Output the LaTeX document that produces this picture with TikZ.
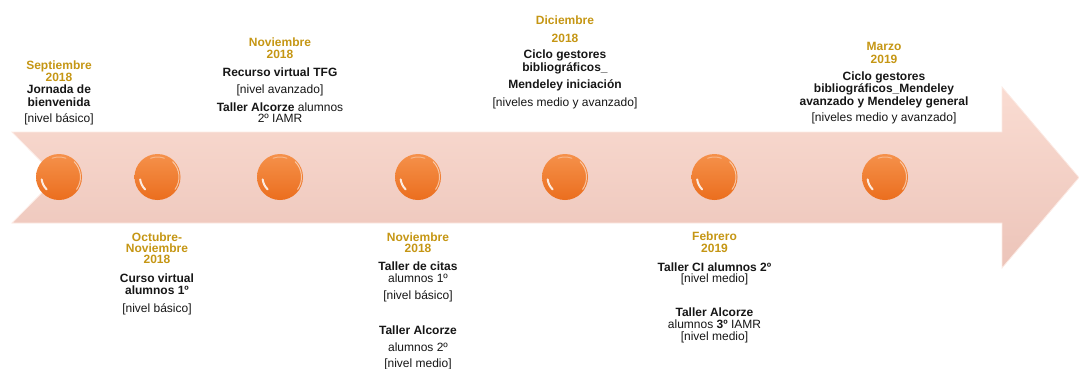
\documentclass[tikz,border=0pt]{standalone}
\usepackage{fontspec}
\setmainfont{Liberation Sans}
\definecolor{gold}{RGB}{197,150,20}
\definecolor{txt}{RGB}{22,22,22}
\definecolor{arrt}{RGB}{250,220,210}
\definecolor{arrb}{RGB}{236,196,185}
\definecolor{arredge}{RGB}{252,234,228}
\definecolor{ballt}{RGB}{245,145,75}
\definecolor{ballb}{RGB}{235,110,30}
\newcommand{\hd}[1]{\textcolor{gold}{\textbf{#1}}}
\begin{document}
\begin{tikzpicture}[x=1bp,y=-1bp,
  blk/.style={align=center, inner sep=0pt, anchor=north, text=txt,
    font=\fontsize{12bp}{12bp}\selectfont},
  ball/.style={circle, minimum size=46bp, inner sep=0pt, draw=none,
    top color=ballt, bottom color=ballb},
  glint/.style={white, line width=2bp, opacity=0.85, line cap=round},
  rim/.style={white, line width=1bp, opacity=0.55, line cap=round}]
\useasboundingbox (0,0) rectangle (1079,368);

% arrow body
\shade[top color=arrt, bottom color=arrb]
  (12,132) -- (1002,132) -- (1002,87) -- (1079,177.5) -- (1002,268)
  -- (1002,223) -- (12,223) -- (57,177.5) -- cycle;
\draw[arredge, line width=0.8bp, line join=miter]
  (12,132) -- (1002,132) -- (1002,87) -- (1079,177.5) -- (1002,268)
  -- (1002,223) -- (12,223) -- (57,177.5) -- cycle;

% balls
\node[ball] (c1) at (59,177) {};
\node[ball] (c2) at (157.5,177) {};
\node[ball] (c3) at (280,177) {};
\node[ball] (c4) at (418,177) {};
\node[ball] (c5) at (565,177) {};
\node[ball] (c6) at (714.5,177) {};
\node[ball] (c7) at (885,177) {};
\foreach \c in {c1,c2,c3,c4,c5,c6,c7} {
  \draw[glint] ([shift={(135:17.5)}]\c.center) arc[start angle=135, end angle=172, radius=17.5];
  \draw[rim] ([shift={(-45:21.5)}]\c.center) arc[start angle=-45, end angle=35, radius=21.5];
  \draw[rim, opacity=0.35] ([shift={(-110:20)}]\c.center) arc[start angle=-110, end angle=-70, radius=20];
}

% upper texts
\node[blk] (t1) at (59,60.5) {\hd{Septiembre}\\\hd{2018}\\\textbf{Jornada de}\\[1bp]\textbf{bienvenida}\\[4bp][nivel básico]};
\node[blk] (t2) at (280,37.5) {\hd{Noviembre}\\\hd{2018}\\[6bp]\textbf{Recurso virtual TFG}\\[5bp][nivel avanzado]\\[6bp]\textbf{Taller Alcorze} alumnos\\[-1bp]2º IAMR};
\node[blk] (t3) at (565,15.5) {\hd{Diciembre}\\[6bp]\hd{2018}\\[4bp]\textbf{Ciclo gestores}\\[1bp]\textbf{bibliográficos\_}\\[5bp]\textbf{Mendeley iniciación}\\[6bp][niveles medio y avanzado]};
\node[blk] (t4) at (884,42.5) {\hd{Marzo}\\[1bp]\hd{2019}\\[5bp]\textbf{Ciclo gestores}\\[0bp]\textbf{bibliográficos\_Mendeley}\\[1bp]\textbf{avanzado y Mendeley general}\\[4bp][niveles medio y avanzado]};

% lower texts
\node[blk] (t5) at (157,232.5) {\hd{Octubre-}\\[-1bp]\hd{Noviembre}\\[-1bp]\hd{2018}\\[7bp]\textbf{Curso virtual}\\[0bp]\textbf{alumnos 1º}\\[6bp][nivel básico]};
\node[blk] (t6) at (418,232.5) {\hd{Noviembre}\\[-1bp]\hd{2018}\\[6bp]\textbf{Taller de citas}\\[0bp]alumnos 1º\\[5bp][nivel básico]\\[23bp]\textbf{Taller Alcorze}\\[5bp]alumnos 2º\\[4bp][nivel medio]};
\node[blk] (t7) at (714.5,231.5) {\hd{Febrero}\\[0bp]\hd{2019}\\[7bp]\textbf{Taller CI alumnos 2º}\\[-1bp][nivel medio]\\[22bp]\textbf{Taller Alcorze}\\[0bp]alumnos \textbf{3º} IAMR\\[0bp][nivel medio]};
\end{tikzpicture}
\end{document}
